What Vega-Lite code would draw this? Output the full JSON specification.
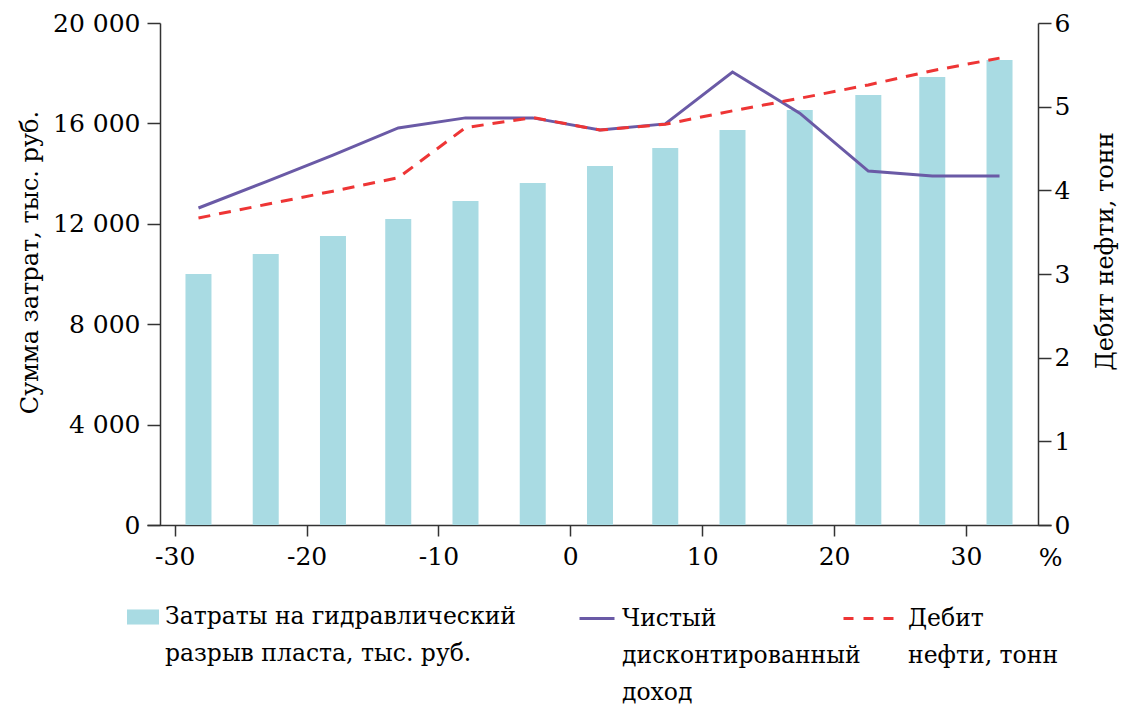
{
  "$schema": "https://vega.github.io/schema/vega-lite/v6.json",
  "autosize": {"type": "none"},
  "width": 904,
  "height": 502,
  "padding": {"left": 147, "top": 23, "right": 70, "bottom": 182},
  "background": "white",
  "config": {
    "font": "DejaVu Serif",
    "view": {"stroke": null},
    "axis": {
      "grid": false,
      "domainColor": "#333333",
      "domainWidth": 1.5,
      "tickColor": "#333333",
      "tickWidth": 1.5,
      "labelColor": "#000000",
      "labelFont": "DejaVu Serif",
      "labelFontSize": 25,
      "titleFont": "DejaVu Serif",
      "titleFontSize": 24,
      "titleFontWeight": "normal",
      "titleColor": "#000000"
    },
    "legend": {
      "labelFont": "DejaVu Serif",
      "labelFontSize": 23.5,
      "labelColor": "#000000",
      "padding": 0,
      "labelLimit": 1000
    }
  },
  "data": {
    "values": [
      {"x": -28.2, "cost": 10000, "npv": 12630, "oil": 3.67},
      {"x": -23.1, "cost": 10800, "npv": 13670, "oil": 3.83},
      {"x": -18.0, "cost": 11510, "npv": 14740, "oil": 3.99},
      {"x": -13.05, "cost": 12190, "npv": 15820, "oil": 4.15},
      {"x": -7.95, "cost": 12910, "npv": 16220, "oil": 4.75},
      {"x": -2.85, "cost": 13630, "npv": 16220, "oil": 4.87},
      {"x": 2.25, "cost": 14300, "npv": 15740, "oil": 4.72},
      {"x": 7.2, "cost": 15020, "npv": 15980, "oil": 4.79},
      {"x": 12.3, "cost": 15740, "npv": 18050, "oil": 4.95},
      {"x": 17.4, "cost": 16530, "npv": 16410, "oil": 5.10},
      {"x": 22.6, "cost": 17130, "npv": 14100, "oil": 5.26},
      {"x": 27.45, "cost": 17850, "npv": 13900, "oil": 5.43},
      {"x": 32.55, "cost": 18530, "npv": 13900, "oil": 5.58}
    ]
  },
  "encoding": {
    "x": {
      "field": "x",
      "type": "quantitative",
      "scale": {"domain": [-31.725, 36.075], "nice": false, "zero": false},
      "axis": {
        "values": [-30, -20, -10, 0, 10, 20, 30],
        "labelExpr": "'' + datum.value",
        "tickSize": 11,
        "labelPadding": 8,
        "labelFlush": false,
        "labelOverlap": false,
        "title": "%",
        "titleFontSize": 25,
        "titleX": 903,
        "titleY": 32,
        "titleBaseline": "middle",
        "titleAlign": "center"
      }
    }
  },
  "layer": [
    {
      "mark": {"type": "bar", "size": 26},
      "encoding": {
        "y": {
          "field": "cost",
          "type": "quantitative",
          "scale": {"domain": [0, 20000], "nice": false},
          "axis": {
            "orient": "left",
            "offset": -13,
            "values": [0, 4000, 8000, 12000, 16000, 20000],
            "labelExpr": "replace(format(datum.value, ','), ',', ' ')",
            "tickSize": 13,
            "labelPadding": 7,
            "title": "Сумма затрат, тыс. руб.",
            "titleAngle": -90,
            "titleX": -130,
            "titleY": 239,
            "titleAlign": "center",
            "titleBaseline": "middle"
          }
        },
        "color": {
          "datum": "Затраты на гидравлический разрыв пласта, тыс. руб.",
          "type": "nominal",
          "scale": {"range": ["#a9dbe3"]},
          "legend": {
            "orient": "none",
            "legendX": -20,
            "legendY": 578,
            "title": null,
            "symbolType": "M-1,-0.47H1V0.47H-1Z",
            "symbolSize": 1024,
            "symbolStrokeWidth": 0,
            "labelOffset": 6,
            "labelBaseline": "middle",
            "labelExpr": "['Затраты на гидравлический', 'разрыв пласта, тыс. руб.']",
            "encode": {"labels": {"update": {"lineHeight": {"value": 37}}}}
          }
        }
      }
    },
    {
      "mark": {"type": "line", "strokeWidth": 3},
      "encoding": {
        "y": {
          "field": "npv",
          "type": "quantitative",
          "scale": {"domain": [0, 20000], "nice": false},
          "axis": null
        },
        "color": {
          "datum": "Чистый дисконтированный доход",
          "type": "nominal",
          "scale": {"range": ["#6a5aa6"]},
          "legend": {
            "orient": "none",
            "legendX": 431,
            "legendY": 576.5,
            "title": null,
            "symbolType": "stroke",
            "symbolSize": 1225,
            "symbolStrokeWidth": 3,
            "labelOffset": 6,
            "labelBaseline": "middle",
            "labelExpr": "['Чистый', 'дисконтированный', 'доход']",
            "encode": {"labels": {"update": {"lineHeight": {"value": 37}}}}
          }
        }
      }
    },
    {
      "mark": {"type": "line", "strokeWidth": 3, "strokeDash": [12, 9]},
      "encoding": {
        "y": {
          "field": "oil",
          "type": "quantitative",
          "scale": {"domain": [0, 6], "nice": false},
          "axis": {
            "orient": "right",
            "offset": -13,
            "values": [0, 1, 2, 3, 4, 5, 6],
            "tickSize": 13,
            "labelPadding": 3,
            "title": "Дебит нефти, тонн",
            "titleAngle": -90,
            "titleX": 67,
            "titleY": 228,
            "titleAlign": "center",
            "titleBaseline": "middle"
          }
        },
        "color": {
          "datum": "Дебит нефти, тонн",
          "type": "nominal",
          "scale": {"range": ["#ee3535"]},
          "legend": {
            "orient": "none",
            "legendX": 695,
            "legendY": 568.5,
            "title": null,
            "symbolType": "stroke",
            "symbolSize": 2601,
            "symbolStrokeWidth": 3,
            "symbolDash": [10, 10],
            "labelOffset": 12,
            "labelBaseline": "middle",
            "labelExpr": "['Дебит', 'нефти, тонн']",
            "encode": {"labels": {"update": {"lineHeight": {"value": 37}}}}
          }
        }
      }
    }
  ],
  "resolve": {"scale": {"y": "independent", "color": "independent"}}
}
